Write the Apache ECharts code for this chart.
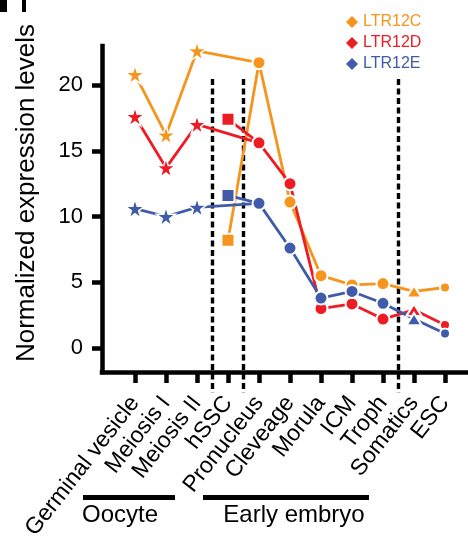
<!DOCTYPE html>
<html>
<head>
<meta charset="utf-8">
<script src="https://cdn.jsdelivr.net/npm/echarts@6/dist/echarts.min.js"></script>
<style>
  html, body { margin: 0; padding: 0; background: #fff; }
  #chart { width: 468px; height: 536px; }
</style>
</head>
<body>
<div id="chart"></div>
<script>
// Developmental stages along the x axis
const stages = ['Germinal vesicle', 'Meiosis I', 'Meiosis II', 'hSSC', 'Pronucleus',
  'Cleveage', 'Morula', 'ICM', 'Troph', 'Somatics', 'ESC'];

// Normalized expression levels per LTR subfamily
const ltr12c = [20.8, 16.2, 22.6, 8.2, 21.7, 11.1, 5.5, 4.8, 4.9, 4.3, 4.6];
const ltr12d = [17.6, 13.7, 17.0, 17.4, 15.6, 12.5, 3.0, 3.35, 2.2, 2.9, 1.75];
const ltr12e = [10.6, 10.0, 10.7, 11.6, 11.0, 7.6, 3.8, 4.3, 3.4, 2.2, 1.1];

// Y axis tick labels
const yTicks = [0, 5, 10, 15, 20];

// Dotted separators between stage groups (x position, top value, bottom value)
const dividers = [[2.5, 20.45, -3.4], [3.5, 20.45, -3.4], [8.5, 20.45, -3.4]];

const SSC_INDEX = 3;
const FONT = '"Liberation Sans", Arial, Helvetica, sans-serif';
const COLORS = { LTR12C: '#F7941D', LTR12D: '#ED1C24', LTR12E: '#3F5BA9' };
const STAR = 'path://M50,0 L61.23,34.55 L97.55,34.55 L68.16,55.9 L79.39,90.45 L50,69.1 ' +
  'L20.61,90.45 L31.84,55.9 L2.45,34.55 L38.77,34.55 Z';

function markerFor(i) {
  if (i <= 2) return { symbol: STAR, symbolSize: 19, itemStyle: { borderWidth: 1.5 } };
  if (i === SSC_INDEX) return { symbol: 'rect', symbolSize: 13 };
  if (i === 9) return { symbol: 'triangle', symbolSize: [15, 12] };
  if (i === 10) return { symbol: 'circle', symbolSize: 10 };
  return { symbol: 'circle', symbolSize: 13 };
}

function buildSeries(name, values) {
  const color = COLORS[name];
  const base = {
    type: 'line',
    name: name,
    color: color,
    lineStyle: { width: 2.8, color: color },
    itemStyle: { color: color, borderColor: '#fff', borderWidth: 2 },
    showAllSymbol: true,
    animation: false,
    emphasis: { disabled: true }
  };
  // Oocyte stages run straight into the embryo stages
  const main = Object.assign({}, base, {
    z: 3,
    data: values.map((v, i) => i === SSC_INDEX ? null : Object.assign({ value: [i, v] }, markerFor(i)))
      .filter(d => d !== null)
  });
  // hSSC joins the pronucleus stage
  const ssc = Object.assign({}, base, {
    z: 2,
    data: [
      Object.assign({ value: [SSC_INDEX, values[SSC_INDEX]] }, markerFor(SSC_INDEX)),
      { value: [SSC_INDEX + 1, values[SSC_INDEX + 1]], symbol: 'none' }
    ]
  });
  return [main, ssc];
}

const chart = echarts.init(document.getElementById('chart'), null, { renderer: 'canvas' });

const option = {
  backgroundColor: '#fff',
  animation: false,
  grid: { left: 102, right: 0, top: 46, bottom: 164, containLabel: false, outerBoundsMode: 'none' },
  legend: {
    orient: 'vertical',
    left: 341,
    top: 9,
    itemWidth: 12,
    itemHeight: 12,
    itemGap: 5,
    icon: 'diamond',
    selectedMode: false,
    itemStyle: { borderWidth: 0 },
    textStyle: { fontSize: 16, lineHeight: 16, fontFamily: FONT },
    data: Object.keys(COLORS).map(n => ({ name: n, textStyle: { color: COLORS[n] } }))
  },
  xAxis: {
    type: 'value',
    min: -1.0645,
    max: 10.742,
    splitLine: { show: false },
    axisLine: { show: true, onZero: false, lineStyle: { color: '#000', width: 4.5, cap: 'square' } },
    axisTick: { show: true, customValues: stages.map((s, i) => i), length: 11, lineStyle: { color: '#000', width: 4.5 } },
    axisLabel: {
      customValues: stages.map((s, i) => i),
      formatter: v => stages[Math.round(v)],
      rotate: 52,
      margin: 27,
      fontSize: 23,
      color: '#000',
      fontFamily: FONT
    }
  },
  yAxis: {
    type: 'value',
    min: -1.825,
    max: 22.966,
    splitLine: { show: false },
    axisLine: { show: true, onZero: false, lineStyle: { color: '#000', width: 4.5, cap: 'square' } },
    axisTick: { show: true, customValues: yTicks, length: 10, lineStyle: { color: '#000', width: 4.5 } },
    axisLabel: { customValues: yTicks, margin: 19, fontSize: 22, color: '#000', fontFamily: FONT }
  },
  graphic: [
    { type: 'rect', left: 0, top: 0, shape: { width: 7, height: 12 }, style: { fill: '#000' } },
    { type: 'rect', left: 22, top: 0, shape: { width: 4, height: 12 }, style: { fill: '#000' } },
    {
      type: 'text', x: 27, y: 193, rotation: Math.PI / 2,
      style: { text: 'Normalized expression levels', fontSize: 26, fontFamily: FONT, fill: '#000', align: 'center', verticalAlign: 'middle' }
    },
    { type: 'rect', shape: { x: 83, y: 495, width: 92, height: 5 }, style: { fill: '#000' } },
    { type: 'rect', shape: { x: 203, y: 495, width: 166, height: 5 }, style: { fill: '#000' } },
    { type: 'text', x: 120, y: 515, style: { text: 'Oocyte', fontSize: 24, fontFamily: FONT, fill: '#000', align: 'center', verticalAlign: 'middle' } },
    { type: 'text', x: 294, y: 515, style: { text: 'Early embryo', fontSize: 24, fontFamily: FONT, fill: '#000', align: 'center', verticalAlign: 'middle' } }
  ],
  series: [
    {
      type: 'custom',
      name: 'dividers',
      clip: false,
      silent: true,
      z: 1,
      data: dividers,
      encode: { x: 0, y: [1, 2] },
      renderItem: (params, api) => {
        const top = api.coord([api.value(0), api.value(1)]);
        const bottom = api.coord([api.value(0), api.value(2)]);
        return {
          type: 'line',
          shape: { x1: top[0], y1: top[1], x2: bottom[0], y2: bottom[1] },
          style: { stroke: '#000', lineWidth: 3.4, lineDash: [6, 3.5] }
        };
      }
    },
    ...buildSeries('LTR12C', ltr12c),
    ...buildSeries('LTR12D', ltr12d),
    ...buildSeries('LTR12E', ltr12e)
  ]
};

chart.setOption(option);
</script>
</body>
</html>
